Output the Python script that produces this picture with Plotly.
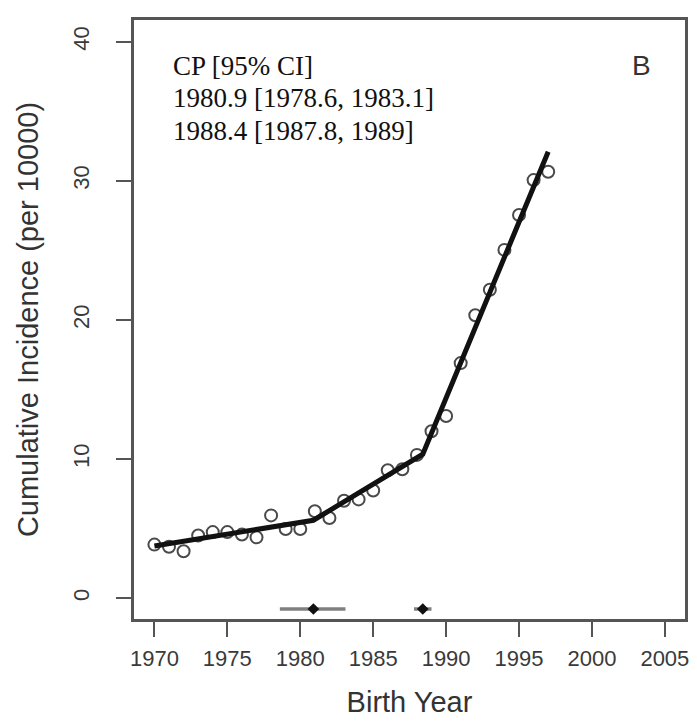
import plotly.graph_objects as go

# observed cumulative incidence by birth year
years = list(range(1970, 1998))
incidence = [3.85, 3.7, 3.37, 4.5, 4.75, 4.75, 4.57, 4.37, 5.95, 4.97,
             4.97, 6.25, 5.76, 7.0, 7.1, 7.74, 9.2, 9.27, 10.3, 12.0,
             13.1, 16.9, 20.34, 22.17, 25.04, 27.55, 30.06, 30.66]

# joinpoint fit: start, change points, end
fit_x = [1970, 1980.9, 1988.4, 1997]
fit_y = [3.75, 5.6, 10.35, 32.1]

# change points with 95% CI
cp = [1980.9, 1988.4]
cp_lo = [1978.6, 1987.8]
cp_hi = [1983.1, 1989.0]
cp_y = -0.78

x_ticks = [1970, 1975, 1980, 1985, 1990, 1995, 2000, 2005]
y_ticks = [0, 10, 20, 30, 40]

legend_lines = ["CP [95% CI]", "1980.9 [1978.6, 1983.1]", "1988.4 [1987.8, 1989]"]

fig = go.Figure()

for lo, hi in zip(cp_lo, cp_hi):
    fig.add_trace(go.Scatter(x=[lo, hi], y=[cp_y, cp_y], mode="lines",
                             line=dict(color="#808080", width=3.5),
                             showlegend=False, hoverinfo="skip"))
fig.add_trace(go.Scatter(x=cp, y=[cp_y] * len(cp), mode="markers",
                         marker=dict(symbol="diamond", size=9, color="#111"),
                         showlegend=False))

fig.add_trace(go.Scatter(x=years, y=incidence, mode="markers",
                         marker=dict(symbol="circle-open", size=12, color="#4a4a4a",
                                     line=dict(color="#4a4a4a", width=2)),
                         showlegend=False))
fig.add_trace(go.Scatter(x=fit_x, y=fit_y, mode="lines",
                         line=dict(color="#111", width=5),
                         showlegend=False))

axis_font = dict(family="Liberation Sans, Arial", size=22, color="#3a3a3a")
title_font = dict(family="Liberation Sans, Arial", size=29, color="#333")

fig.update_layout(
    width=697, height=727,
    margin=dict(l=125.5, r=19.5, t=12, b=115.5),
    plot_bgcolor="white", paper_bgcolor="white",
    xaxis=dict(
        range=[1968.6, 2006.38], tickvals=x_ticks, automargin=False,
        ticks="outside", ticklen=15, tickwidth=2, tickcolor="#555",
        showline=True, linecolor="#555", linewidth=2.5, mirror=True,
        showgrid=False, zeroline=False, tickfont=axis_font, ticklabelstandoff=3,
        title=dict(text="Birth Year", font=title_font, standoff=22),
    ),
    yaxis=dict(
        range=[-1.5, 41.57], tickvals=y_ticks, automargin=False,
        ticks="outside", ticklen=15, tickwidth=2, tickcolor="#555",
        showline=True, linecolor="#555", linewidth=2.5, mirror=True,
        showgrid=False, zeroline=False, tickfont=axis_font, tickangle=-90,
        ticklabelstandoff=18,
        title=dict(text="Cumulative Incidence (per 10000)", font=title_font,
                   standoff=23),
    ),
)

for line, py in zip(legend_lines, [0.9233, 0.8691, 0.8148]):
    fig.add_annotation(x=0.0679, y=py, xref="paper", yref="paper", xanchor="left",
                       yanchor="middle", showarrow=False, text=line,
                       font=dict(family="Liberation Serif, Times New Roman", size=27,
                                 color="#111"))
fig.add_annotation(x=0.9203, y=0.9233, xref="paper", yref="paper", xanchor="center",
                   yanchor="middle", showarrow=False, text="B",
                   font=dict(family="Liberation Sans, Arial", size=28, color="#333"))

fig.write_html("out.html")
